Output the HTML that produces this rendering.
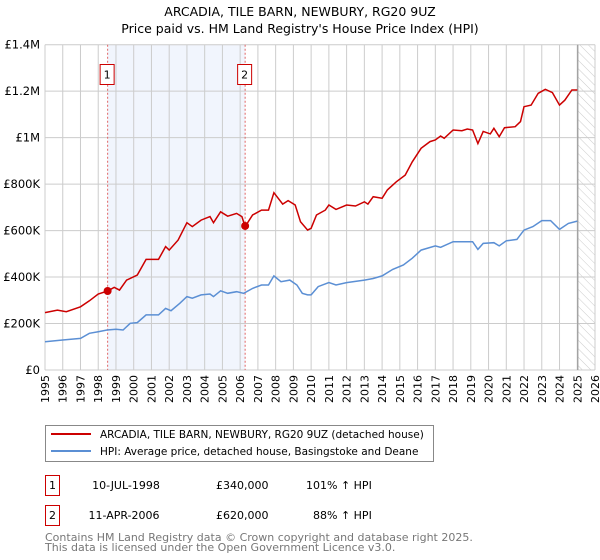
<!DOCTYPE html>
<html><head><meta charset="utf-8"><style>
body{margin:0;background:#fff;font-family:"Liberation Sans","DejaVu Sans",sans-serif;}
svg{display:block}
</style></head><body>
<svg width="600" height="560" font-family="DejaVu Sans, Liberation Sans, sans-serif">
<defs><pattern id="hatch" width="6" height="6" patternUnits="userSpaceOnUse" patternTransform="rotate(-45)"><line x1="0" y1="0" x2="0" y2="6" stroke="#ccc" stroke-width="1"/></pattern></defs>
<text x="300" y="16" text-anchor="middle" font-size="12.5">ARCADIA, TILE BARN, NEWBURY, RG20 9UZ</text>
<text x="300" y="33" text-anchor="middle" font-size="12.5">Price paid vs. HM Land Registry's House Price Index (HPI)</text>
<g id="plot"></g>
<rect x="45.5" y="425.5" width="388" height="36" fill="#fff" stroke="#888"/>
<line x1="51" y1="434" x2="91" y2="434" stroke="#cc0000" stroke-width="2"/>
<text x="100" y="438" font-size="10.5">ARCADIA, TILE BARN, NEWBURY, RG20 9UZ (detached house)</text>
<line x1="51" y1="451" x2="91" y2="451" stroke="#5b8fd4" stroke-width="2"/>
<text x="100" y="455" font-size="10.5">HPI: Average price, detached house, Basingstoke and Deane</text>
<g font-size="11">
<rect x="45.5" y="475.5" width="14" height="20" fill="#fff" stroke="#cc0000"/>
<text x="52.5" y="489" text-anchor="middle">1</text>
<text x="126" y="489" text-anchor="middle">10-JUL-1998</text>
<text x="216" y="489">£340,000</text>
<text x="306" y="489">101% ↑ HPI</text>
<rect x="45.5" y="505.5" width="14" height="20" fill="#fff" stroke="#cc0000"/>
<text x="52.5" y="519" text-anchor="middle">2</text>
<text x="124" y="519" text-anchor="middle">11-APR-2006</text>
<text x="216" y="519">£620,000</text>
<text x="313" y="519">88% ↑ HPI</text>
</g>
<text x="45" y="541" font-size="11" fill="#777">Contains HM Land Registry data © Crown copyright and database right 2025.</text>
<text x="45" y="551" font-size="11" fill="#777">This data is licensed under the Open Government Licence v3.0.</text>
</svg>
<script>
const yTicks=[0,200000,400000,600000,800000,1000000,1200000,1400000];
const yTickLabels=["£0","£200K","£400K","£600K","£800K","£1M","£1.2M","£1.4M"];
const xYears=[1995,1996,1997,1998,1999,2000,2001,2002,2003,2004,2005,2006,2007,2008,2009,2010,2011,2012,2013,2014,2015,2016,2017,2018,2019,2020,2021,2022,2023,2024,2025,2026];
const saleDates=[1998.53,2006.28];
const salePrices=[340000,620000];
const saleLabels=["1","2"];
const dataEnd=2025.03;
const propT=[1995,1995.7,1996.2,1997,1997.5,1998,1998.53,1998.9,1999.2,1999.6,2000.2,2000.7,2001.4,2001.8,2002,2002.5,2003,2003.3,2003.8,2004.3,2004.5,2004.9,2005.3,2005.8,2006.1,2006.28,2006.7,2007.2,2007.6,2007.9,2008.4,2008.7,2009.1,2009.4,2009.8,2010,2010.3,2010.8,2011,2011.4,2012,2012.5,2013,2013.2,2013.5,2014,2014.3,2014.8,2015.3,2015.7,2016.2,2016.7,2017,2017.3,2017.5,2018,2018.5,2018.8,2019.1,2019.4,2019.7,2020.1,2020.3,2020.6,2020.9,2021.5,2021.8,2022,2022.4,2022.8,2023.2,2023.6,2024,2024.3,2024.7,2025];
const propV=[247,258,251,272,298,327,340,356,344,387,409,476,476,531,516,559,634,617,645,660,634,681,662,674,660,617,667,688,688,763,714,729,710,638,602,610,667,688,710,691,710,706,724,714,746,739,775,810,839,896,954,983,990,1007,997,1033,1030,1037,1033,975,1027,1016,1040,1004,1043,1047,1069,1133,1140,1191,1208,1194,1140,1161,1205,1205];
const hpiT=[1995,1996,1997,1997.5,1998,1998.5,1999,1999.4,1999.8,2000.2,2000.7,2001.4,2001.8,2002.1,2002.6,2003,2003.3,2003.8,2004.3,2004.5,2004.9,2005.3,2005.8,2006.2,2006.7,2007.2,2007.6,2007.9,2008.3,2008.8,2009.2,2009.5,2009.8,2010,2010.4,2011,2011.4,2012,2013,2013.5,2014,2014.6,2015.2,2015.7,2016.2,2017,2017.3,2018,2018.8,2019.1,2019.4,2019.7,2020.3,2020.6,2021,2021.6,2022,2022.5,2023,2023.5,2024,2024.5,2025];
const hpiV=[122,129,136,158,165,172,175,172,201,204,237,237,265,255,287,316,309,323,327,316,341,330,337,330,351,366,366,405,380,387,366,330,323,323,359,376,366,376,387,394,405,433,452,481,516,534,528,552,552,552,519,545,548,534,556,562,602,617,643,643,605,631,641];

const NS="http://www.w3.org/2000/svg";
const L=45,R=595,T=44.7,B=370,X0=1995,X1=2026,YMAX=1400000;
const sx=t=>L+(t-X0)/(X1-X0)*(R-L);
const sy=v=>B-v/YMAX*(B-T);
const g=document.getElementById('plot');
function mk(tag,attrs){const e=document.createElementNS(NS,tag);for(const k in attrs)e.setAttribute(k,attrs[k]);g.appendChild(e);return e;}
let e;
e=mk('rect',{x:sx(saleDates[0]),y:T,width:sx(saleDates[1])-sx(saleDates[0]),height:B-T,fill:'#eef3fc',opacity:0.8});


e=mk('rect',{x:sx(dataEnd),y:T,width:R-sx(dataEnd),height:B-T,fill:'url(#hatch)'});


xYears.forEach(y=>{
 e=mk('line',{x1:sx(y),x2:sx(y),y1:T,y2:B,stroke:'#ccc','stroke-width':1});
 
 
 e=mk('text',{x:0,y:0,'font-size':11,'text-anchor':'end',transform:`translate(${sx(y)+4},${B+5}) rotate(-90)`});
 e.textContent=y;
 
 
});
yTicks.forEach((v,i)=>{
 e=mk('line',{x1:L,x2:R,y1:sy(v),y2:sy(v),stroke:'#ccc','stroke-width':1});
 
 
 e=mk('text',{x:L-5,y:sy(v)+4,'font-size':11.5,'text-anchor':'end'});
 e.textContent=yTickLabels[i];
 
 
});
e=mk('line',{x1:sx(dataEnd),x2:sx(dataEnd),y1:T,y2:B,stroke:'#999','stroke-width':1.2});


saleDates.forEach((d,i)=>{
 e=mk('line',{x1:sx(d),x2:sx(d),y1:T,y2:B,stroke:'#e06666','stroke-width':1,'stroke-dasharray':'2,2'});
 
 
 e=mk('rect',{x:sx(d)-7.5,y:64.5,width:14,height:20,fill:'#fff',stroke:'#cc0000'});
 
 
 e=mk('text',{x:sx(d)-0.5,y:78.5,'font-size':11,'text-anchor':'middle'});
 e.textContent=saleLabels[i];
 
 
});
function path(ts,vs){return ts.map((t,i)=>(i?'L':'M')+sx(t).toFixed(1)+','+sy(vs[i]*1000).toFixed(1)).join('');}
e=mk('path',{d:path(hpiT,hpiV),fill:'none',stroke:'#5b8fd4','stroke-width':1.5});


e=mk('path',{d:path(propT,propV),fill:'none',stroke:'#cc0000','stroke-width':1.5});


saleDates.forEach((d,i)=>{
 e=mk('circle',{cx:sx(d),cy:sy(salePrices[i]),r:4,fill:'#cc0000'});
 
 
});
</script>
</body></html>
